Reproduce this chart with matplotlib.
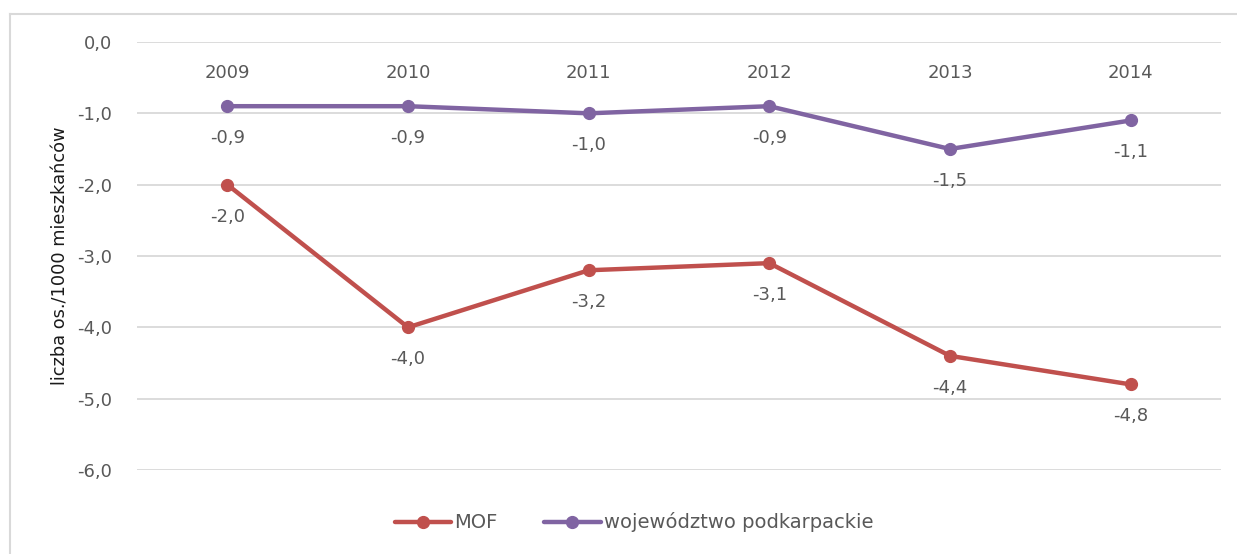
import matplotlib
matplotlib.use("Agg")
import matplotlib.pyplot as plt
from matplotlib.lines import Line2D

years = ["2009", "2010", "2011", "2012", "2013", "2014"]
mof = [-2.0, -4.0, -3.2, -3.1, -4.4, -4.8]
podkarpackie = [-0.9, -0.9, -1.0, -0.9, -1.5, -1.1]
yticks = [0.0, -1.0, -2.0, -3.0, -4.0, -5.0, -6.0]

plt.rcParams['font.family'] = ['DejaVu Sans']
TXT = '#595959'
RED = '#C0504D'
PUR = '#8064A2'
FS = 13

fig = plt.figure(figsize=(12.37, 5.54), dpi=100)
ax = fig.add_axes([0.1108, 0.1516, 0.8762, 0.7726])
x = list(range(len(years)))

def fmt(v):
    return f"{v:.1f}".replace('.', ',')

ax.plot(x, mof, color=RED, lw=3.2, marker='o', ms=8.5, label='MOF', solid_capstyle='round', zorder=3)
ax.plot(x, podkarpackie, color=PUR, lw=3.2, marker='o', ms=8.5, label='województwo podkarpackie', solid_capstyle='round', zorder=3)

for xi, v in zip(x, mof):
    ax.annotate(fmt(v), (xi, v), xytext=(0, -23), textcoords='offset points', ha='center', va='center', fontsize=FS, color=TXT)
for xi, v in zip(x, podkarpackie):
    ax.annotate(fmt(v), (xi, v), xytext=(0, -23), textcoords='offset points', ha='center', va='center', fontsize=FS, color=TXT)

ax.set_xlim(-0.5, len(years) - 0.5)
ax.set_ylim(-6.0, 0.0)
ax.set_yticks(yticks)
ax.set_yticklabels([fmt(t) for t in yticks], fontsize=FS, color=TXT)
ax.set_xticks([])
for xi, yr in zip(x, years):
    ax.annotate(yr, (xi, 0), xytext=(0, -22), textcoords='offset points', ha='center', va='center', fontsize=FS, color=TXT)

ax.grid(axis='y', color='#D9D9D9', lw=1.3)
ax.set_axisbelow(True)
for s in ax.spines.values():
    s.set_visible(False)
ax.tick_params(axis='y', length=0, pad=18)
ax.set_ylabel('liczba os./1000 mieszkańców', fontsize=12.8, color='#1a1a1a')
ax.yaxis.set_label_coords(-0.062, 0.5)

leg = fig.legend(loc='center', bbox_to_anchor=(0.5125, 0.057), ncol=2, frameon=False, fontsize=14,
                 handlelength=2.9, columnspacing=2.4, handletextpad=0.15)
for t in leg.get_texts():
    t.set_color(TXT)

W, H = 1237, 554
fig.add_artist(Line2D([9.5 / W, 9.5 / W], [0, 1 - 13.5 / H], transform=fig.transFigure, color='#D9D9D9', lw=1.5))
fig.add_artist(Line2D([9.5 / W, 1], [1 - 13.5 / H, 1 - 13.5 / H], transform=fig.transFigure, color='#D9D9D9', lw=1.5))

fig.savefig('out.png', dpi=100)
